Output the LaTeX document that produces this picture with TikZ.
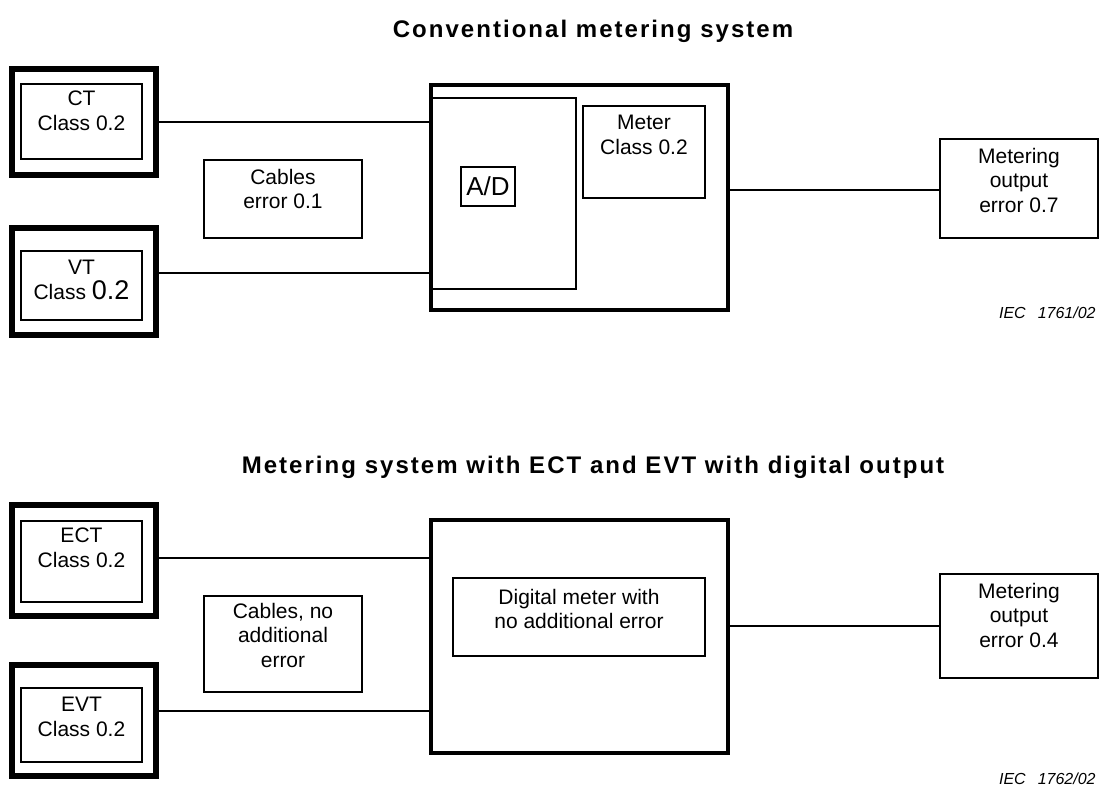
\documentclass[tikz,border=0pt]{standalone}
\usepackage{fontspec}
\setmainfont{Liberation Sans}
\usetikzlibrary{positioning}

\begin{document}
\begin{tikzpicture}[x=0.5pt,y=-0.5pt,
    outer/.style={draw,line width=2.8pt,minimum width=72pt},
    inbox/.style={draw,line width=1.2pt,minimum width=60.5pt},
    box/.style={draw,line width=1.2pt},
    meterbox/.style={draw,line width=2.2pt,minimum width=148.5pt},
    txt/.style={align=center,inner sep=0pt,font=\fontsize{10.5pt}{12.25pt}\selectfont},
    wire/.style={line width=1.2pt},
    title/.style={font=\fontsize{12pt}{14pt}\selectfont\bfseries\addfontfeatures{LetterSpace=8.5}},
    iec/.style={anchor=east,inner sep=0pt,font=\fontsize{8pt}{9pt}\selectfont\itshape}]
    \useasboundingbox (0,0) rectangle (1100,788);
    %conventional
    \node[title] (title1) at (593,31) {Conventional metering system};
    \node[outer,minimum height=53pt] (ctout) at (84,122) {};
    \node[inbox,minimum height=37.5pt] (ct) at (81.5,121.5) {};
    \node[txt,below=4pt of ct.north] (cttxt) {CT\\Class 0.2};
    \node[outer,minimum height=53.5pt] (vtout) at (84,281.5) {};
    \node[inbox,minimum height=34.5pt] (vt) at (81.5,285.5) {};
    \node[txt,below=5pt of vt.north] (vttxt) {VT\\Class {\fontsize{13.5pt}{14pt}\selectfont 0.2}};
    \node[box,minimum width=79pt,minimum height=39pt] (cables) at (283,199) {};
    \node[txt,below=5pt of cables.north] (cablestxt) {Cables\\error 0.1};
    \node[box,line width=1pt,minimum width=72.5pt,minimum height=95.5pt] (adblock) at (503.5,193.5) {};
    \node[meterbox,minimum height=112.5pt] (meter) at (579.5,197.5) {};
    \node[box,minimum width=27pt,minimum height=19.5pt,inner sep=0pt,font=\fontsize{13pt}{14pt}\selectfont] (ad) at (488,186.5) {A/D};
    \node[box,minimum width=61pt,minimum height=46pt] (mtr) at (644,152) {};
    \node[txt,below=5pt of mtr.north] (mtrtxt) {Meter\\Class 0.2};
    \node[box,minimum width=79pt,minimum height=49.5pt] (out) at (1019,188.5) {};
    \node[txt,below=5pt of out.north] (outtxt) {Metering\\output\\error 0.7};
    \draw[wire] (ctout.east) -- (ctout.east -| meter.west);
    \draw[wire] ([yshift=4.25pt]vtout.east) -- ([yshift=4.25pt]vtout.east -| meter.west);
    \draw[wire] ([yshift=-0.75pt]meter.east |- out.west) -- ([yshift=-0.75pt]out.west);
    \node[iec] (iec1) at (1096,313) {IEC\hspace{6pt}1761/02};

    %digital output
    \node[title] (title2) at (593,467) {Metering system with ECT and EVT with digital output};
    \node[outer,minimum height=55.5pt] (ectout) at (84,560.5) {};
    \node[inbox,minimum height=40.5pt] (ect) at (81.5,561.5) {};
    \node[txt,below=4pt of ect.north] (ecttxt) {ECT\\Class 0.2};
    \node[outer,minimum height=55.5pt] (evtout) at (84,720.5) {};
    \node[inbox,minimum height=37pt] (evt) at (81.5,725) {};
    \node[txt,below=5pt of evt.north] (evttxt) {EVT\\Class 0.2};
    \node[box,minimum width=79pt,minimum height=48pt] (cables2) at (283,644) {};
    \node[txt,below=4pt of cables2.north] (cables2txt) {Cables, no\\additional\\error};
    \node[meterbox,minimum height=116.5pt] (meter2) at (579.5,636.5) {};
    \node[box,minimum width=126pt,minimum height=39pt] (digital) at (579,617) {};
    \node[txt,below=6pt of digital.north] (digitaltxt) {Digital meter with\\no additional error};
    \node[box,minimum width=79pt,minimum height=52pt] (out2) at (1019,626) {};
    \node[txt,below=5pt of out2.north] (out2txt) {Metering\\output\\error 0.4};
    \draw[wire] ([yshift=1.25pt]ectout.east) -- ([yshift=1.25pt]ectout.east -| meter2.west);
    \draw[wire] ([yshift=4.75pt]evtout.east) -- ([yshift=4.75pt]evtout.east -| meter2.west);
    \draw[wire] (meter2.east |- out2.west) -- (out2.west);
    \node[iec] (iec2) at (1096,779) {IEC\hspace{6pt}1762/02};
\end{tikzpicture}
\end{document}
